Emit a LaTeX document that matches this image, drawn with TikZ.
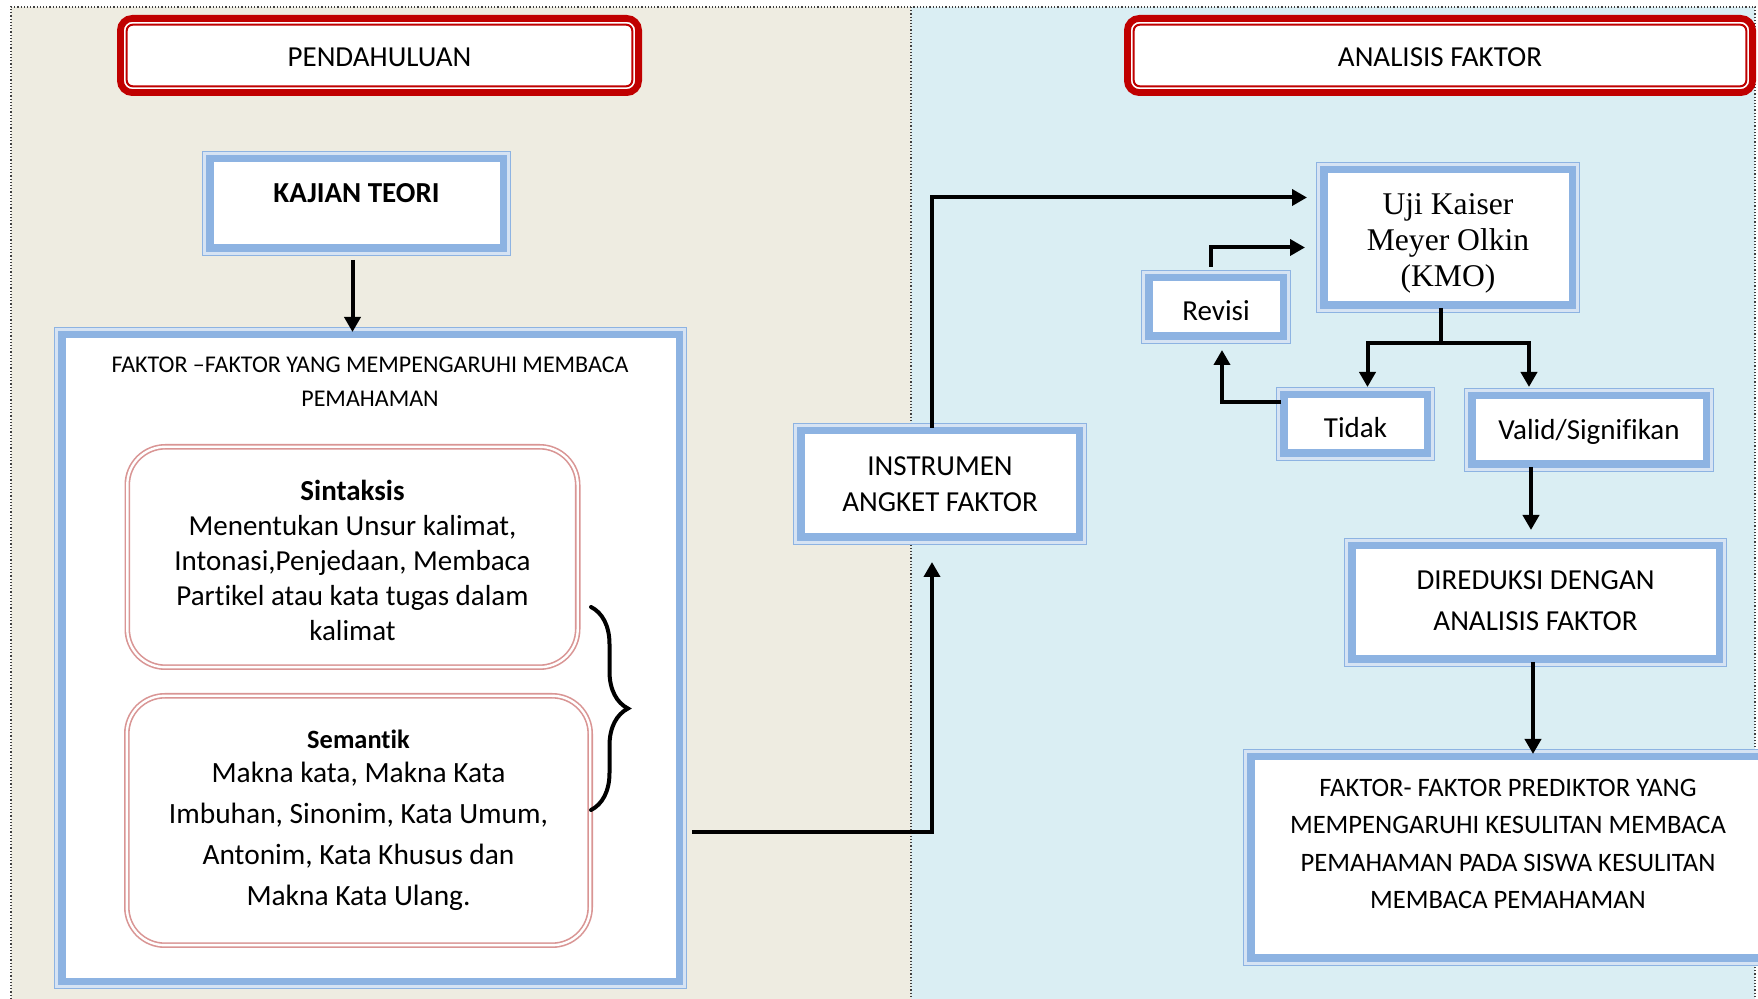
\documentclass[tikz,border=0pt]{standalone}
\usepackage{fontspec}
\setmainfont{Carlito}[Ligatures=NoCommon]
\newfontfamily\timesfont{Liberation Serif}
\usepackage{tikz}
\usetikzlibrary{arrows.meta,decorations.pathreplacing}
\usepackage{xcolor}
\definecolor{PanelBeige}{RGB}{238,236,225}
\definecolor{PanelBlue}{RGB}{218,238,243}
\definecolor{BoxBlue}{RGB}{141,179,226}
\definecolor{BoxPale}{RGB}{214,227,243}
\definecolor{HeadRed}{RGB}{192,0,0}
\definecolor{CardPink}{RGB}{217,149,148}
\newcommand{\bodyfont}{\fontsize{14.5}{18}\selectfont}

\begin{document}
\begin{tikzpicture}[x=0.5pt,y=-0.5pt,
bluebox/.style={draw=BoxBlue,line width=3.25pt,fill=white,align=center,font=\bodyfont},
boxframe/.style={draw=BoxBlue,line width=0.6pt,double=BoxPale,double distance=1.4pt},
redbox/.style={draw=HeadRed,line width=3.4pt,fill=white,rounded corners=6pt,font=\bodyfont,
text height=11.5pt,text depth=0pt},
pinkbox/.style={draw=CardPink,line width=0.8pt,double=white,double distance=1.2pt,fill=white,
rounded corners=19pt,align=center,font=\bodyfont},
arrow/.style={-{Triangle[length=7.5pt,width=8pt]},line width=2pt},
link/.style={line width=2pt},
dotline/.style={densely dotted,line width=0.6pt,black!75}
]
% panels
\useasboundingbox (0,0) rectangle (1758,999);
\clip (0,0) rectangle (1758,999);
\fill[PanelBeige] (11,7) rectangle (911,999);
\fill[PanelBlue] (911,7) rectangle (1755,999);
\draw[dotline] (11,999) -- (11,7) -- (1755,7) -- (1755,999);
\draw[dotline] (911,7) -- (911,999);

% headers
\node[redbox,minimum width=259.1pt,minimum height=37.1pt] (pendahuluan) at (379.5,55.5) {PENDAHULUAN};
\node[redbox,minimum width=312.6pt,minimum height=37.1pt] (analisis) at (1440,55.5) {ANALISIS FAKTOR};
\foreach \n in {pendahuluan,analisis}
  \draw[HeadRed,line width=1pt,rounded corners=3pt] ([xshift=4.85pt,yshift=-4.85pt]\n.north west) rectangle ([xshift=-4.85pt,yshift=4.85pt]\n.south east);

% left column
\node[bluebox,minimum width=146.25pt,minimum height=44.25pt,text depth=10.5pt] (kajian) at (356.5,203.5) {\textbf{KAJIAN TEORI}};
\node[bluebox,minimum width=308.25pt,minimum height=322.75pt] (faktor) at (370.5,658) {};
\node[font=\fontsize{12}{17}\selectfont,align=center] (faktortitle) at (370,382) {FAKTOR –FAKTOR YANG MEMPENGARUHI MEMBACA\\PEMAHAMAN};
\node[pinkbox,minimum width=225.2pt,minimum height=110.2pt,font=\fontsize{14.5}{17.5}\selectfont,text height=83.4pt] (sintaksis) at (352.5,557)
  {\textbf{Sintaksis}\\Menentukan Unsur kalimat,\\Intonasi,Penjedaan, Membaca\\Partikel atau kata tugas dalam\\kalimat};
\node[pinkbox,minimum width=231.7pt,minimum height=124.7pt,font=\fontsize{14.7}{20.5}\selectfont] (semantik) at (358.5,820.5)
  {{\fontsize{13.2}{15}\selectfont\textbf{Semantik}}\\[-3.5pt]Makna kata, Makna Kata\\Imbuhan, Sinonim, Kata Umum,\\Antonim, Kata Khusus dan\\Makna Kata Ulang.};

% middle and right column
\node[bluebox,minimum width=138.75pt,minimum height=52.75pt] (instrumen) at (940,484) {INSTRUMEN\\ANGKET FAKTOR};
\node[bluebox,minimum width=123.75pt,minimum height=67.25pt,font=\timesfont\fontsize{15.8}{18}\selectfont,text height=52.3pt] (uji) at (1448,237.5) {Uji Kaiser\\Meyer Olkin\\(KMO)};
\node[bluebox,minimum width=66.75pt,minimum height=28.75pt,text height=14pt,text depth=0pt] (revisi) at (1216,307) {Revisi};
\node[bluebox,minimum width=71.25pt,minimum height=28.75pt,text height=13.6pt,text depth=0pt] (tidak) at (1355.5,424) {Tidak};
\node[bluebox,minimum width=116.75pt,minimum height=33.75pt,text height=12.5pt,text depth=3pt] (valid) at (1589,430) {Valid/Signifikan};
\node[bluebox,minimum width=183.25pt,minimum height=56.25pt,font=\fontsize{14.5}{20.5}\selectfont,text depth=2.2pt] (direduksi) at (1535.5,602.5) {DIREDUKSI DENGAN\\ANALISIS FAKTOR};
\node[bluebox,minimum width=256.75pt,minimum height=100.25pt,font=\fontsize{13.3}{18.75}\selectfont,text depth=13.5pt] (prediktor) at (1508,857.5)
  {FAKTOR- FAKTOR PREDIKTOR YANG\\MEMPENGARUHI KESULITAN MEMBACA\\PEMAHAMAN PADA SISWA KESULITAN\\MEMBACA PEMAHAMAN};

\foreach \n in {kajian,faktor,instrumen,uji,revisi,tidak,valid,direduksi,prediktor}
  \draw[boxframe] ([xshift=-1.3pt,yshift=1.3pt]\n.north west) rectangle ([xshift=1.3pt,yshift=-1.3pt]\n.south east);

% brace
\coordinate (bracetop) at (591,607);
\coordinate (bracebot) at (591,810);
\draw[link,line cap=round,decorate,decoration={brace,amplitude=18.5pt}] (bracetop) -- (bracebot);

% connectors
\coordinate (kajianout) at ([xshift=-2pt]kajian.south);
\draw[arrow,shorten <=4.5pt] (kajianout) -- (kajianout |- faktor.north);
\coordinate (bracejoin) at (692,832);
\coordinate (instrumenin) at ([xshift=-4pt]instrumen.south);
\draw[arrow,shorten >=11pt] (bracejoin) -| (instrumenin);
\coordinate (instrumenout) at ([xshift=-4pt]instrumen.north);
\coordinate (ujiin) at ([yshift=20pt]uji.west);
\draw[arrow,shorten >=7pt] (instrumenout) |- (ujiin);
\coordinate (revisiout) at ([xshift=-2.5pt]revisi.north);
\coordinate (ujiback) at ([yshift=-5pt]uji.west);
\draw[arrow,shorten <=4pt,shorten >=8pt] (revisiout) |- (ujiback);
\coordinate (ujiout) at ([xshift=-3.5pt]uji.south);
\coordinate (kmosplit) at ([yshift=-17.5pt]ujiout);
\draw[link] (ujiout) -- (kmosplit);
\coordinate (tidakin) at ([xshift=6pt]tidak.north);
\coordinate (validin) at ([xshift=-30pt]valid.north);
\draw[arrow,shorten >=2.5pt] (kmosplit) -| (tidakin);
\draw[arrow,shorten >=3pt] (kmosplit) -| (validin);
\coordinate (tidakout) at ([yshift=11pt]tidak.west);
\coordinate (revisiin) at ([xshift=3pt]revisi.south);
\draw[arrow,shorten >=5.5pt] (tidakout) -| (revisiin);
\coordinate (validout) at ([xshift=-29pt]valid.south);
\draw[arrow,shorten >=6.5pt] (validout) -- (validout |- direduksi.north);
\coordinate (direduksiout) at ([xshift=-1.25pt]direduksi.south);
\draw[arrow] (direduksiout) -- (direduksiout |- prediktor.north);
\end{tikzpicture}
\end{document}
